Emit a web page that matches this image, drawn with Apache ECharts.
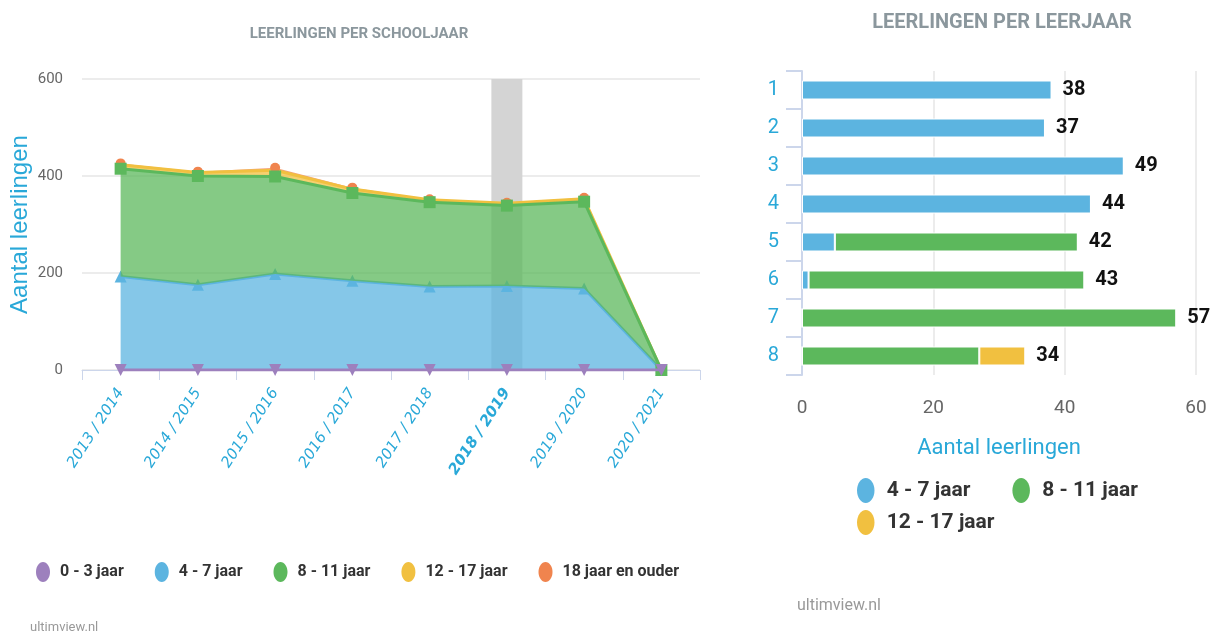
<!DOCTYPE html>
<html>
<head>
<meta charset="utf-8">
<script src="https://cdn.jsdelivr.net/npm/echarts@6/dist/echarts.min.js"></script>
<style>
  html, body { margin: 0; padding: 0; background: #fff; }
  #chart { width: 1212px; height: 635px; }
</style>
</head>
<body>
<div id="chart"></div>
<script>
var myChart = echarts.init(document.getElementById('chart'));

// leerlingen per schooljaar (links)
var schooljaren = ['2013 / 2014', '2014 / 2015', '2015 / 2016', '2016 / 2017', '2017 / 2018', '2018 / 2019', '2019 / 2020', '2020 / 2021'];
var jaar0_3 = [0, 0, 0, 0, 0, 0, 0, 0];
var jaar4_7 = [193, 176, 198, 184, 172, 173, 168, 0];
var jaar8_11 = [222, 224, 201, 181, 174, 166, 179, 0];
var jaar12_17 = [8, 7, 13, 8, 5, 5, 6, 0];
var jaar18plus = [3, 2, 5, 3, 1, 1, 2, 0];
var geselecteerd = [null, null, null, null, null, 600, null, null]; // huidig schooljaar

// leerlingen per leerjaar (rechts)
var leerjaren = ['1', '2', '3', '4', '5', '6', '7', '8'];
var lj4_7 = [38, 37, 49, 44, 5, 1, 0, 0];
var lj8_11 = [0, 0, 0, 0, 37, 42, 57, 27];
var lj12_17 = [0, 0, 0, 0, 0, 0, 0, 7];

var totalen = leerjaren.map(function (l, i) {
    return lj4_7[i] + lj8_11[i] + lj12_17[i];
});

var font = "Roboto, 'Liberation Sans', sans-serif";
var blauwTekst = '#29a8d8';
var kleuren = {
    paars: '#9d80bd',
    blauw: '#5cb4e0',
    groen: '#5cb85c',
    geel: '#f1c040',
    oranje: '#f0844e'
};
var ovaal = 'path://M7,0 C10.9,0 14,4.5 14,10 C14,15.5 10.9,20 7,20 C3.1,20 0,15.5 0,10 C0,4.5 3.1,0 7,0 Z';

function lijn(naam, data, kleur, symbool, extra) {
    var s = {
        name: naam,
        type: 'line',
        xAxisIndex: 0,
        yAxisIndex: 0,
        stack: 'school',
        data: data,
        color: kleur,
        symbol: symbool,
        symbolSize: 12,
        lineStyle: { width: 3, color: kleur },
        itemStyle: { color: kleur },
        areaStyle: { color: kleur, opacity: 0.75 },
        z: 3
    };
    for (var k in extra) s[k] = extra[k];
    return s;
}

option = {
    backgroundColor: '#fff',
    animation: false,
    title: [
        {
            text: 'LEERLINGEN PER SCHOOLJAAR',
            left: 354, top: 22, textAlign: 'center',
            textStyle: { fontFamily: font, fontSize: 15, fontWeight: 'bold', color: '#8b979d' }
        },
        {
            text: 'LEERLINGEN PER LEERJAAR',
            left: 997, top: 8, textAlign: 'center',
            textStyle: { fontFamily: font, fontSize: 20, fontWeight: 'bold', color: '#8b979d' }
        }
    ],
    legend: [
        {
            data: ['0 - 3 jaar', '4 - 7 jaar', '8 - 11 jaar', '12 - 17 jaar', '18 jaar en ouder'],
            left: 31, top: 557,
            icon: ovaal,
            itemWidth: 14, itemHeight: 20, itemGap: 31,
            textStyle: { fontFamily: font, fontSize: 16, fontWeight: 'bold', color: '#333', padding: [0, 0, 0, 5] }
        },
        {
            data: ['4 - 7 jaar', '8 - 11 jaar'],
            left: 852, top: 473,
            icon: ovaal,
            itemWidth: 20, itemHeight: 25, itemGap: 42,
            textStyle: { fontFamily: font, fontSize: 21, fontWeight: 'bold', color: '#333', padding: [0, 0, 0, 6] }
        },
        {
            data: ['12 - 17 jaar'],
            left: 852, top: 505,
            icon: ovaal,
            itemWidth: 20, itemHeight: 25,
            textStyle: { fontFamily: font, fontSize: 21, fontWeight: 'bold', color: '#333', padding: [0, 0, 0, 6] }
        }
    ],
    grid: [
        { left: 82, top: 79, width: 618, height: 291, containLabel: false, outerBoundsMode: 'none' },
        { left: 802, top: 71, width: 394, height: 304, containLabel: false, outerBoundsMode: 'none' }
    ],
    xAxis: [
        {
            gridIndex: 0,
            type: 'category',
            data: schooljaren,
            boundaryGap: true,
            axisLine: { lineStyle: { color: '#ccd6eb', width: 1 } },
            axisTick: { show: true, length: 10, lineStyle: { color: '#ccd6eb' } },
            axisLabel: {
                rotate: 57,
                margin: 20,
                interval: 0,
                fontFamily: 'DejaVu Sans',
                fontStyle: 'italic',
                fontSize: 15,
                color: blauwTekst,
                formatter: function (v, i) {
                    return i === 5 ? '{b|' + v + '}' : v;
                },
                rich: {
                    b: { fontWeight: 'bold', fontStyle: 'italic', fontFamily: 'DejaVu Sans', fontSize: 15, color: blauwTekst }
                }
            }
        },
        {
            gridIndex: 1,
            type: 'value',
            min: 0, max: 60, interval: 20,
            name: 'Aantal leerlingen',
            nameLocation: 'middle',
            nameGap: 62,
            nameTextStyle: { fontFamily: font, fontSize: 22, color: blauwTekst },
            axisLine: { show: false },
            axisTick: { show: false },
            splitLine: { lineStyle: { color: '#e6e6e6', width: 1.5 } },
            axisLabel: { fontFamily: font, fontSize: 19, color: '#666', margin: 24 }
        }
    ],
    yAxis: [
        {
            gridIndex: 0,
            type: 'value',
            min: 0, max: 600, interval: 200,
            name: 'Aantal leerlingen',
            nameLocation: 'middle',
            nameRotate: 90,
            nameGap: 50,
            nameMoveOverlap: false,
            nameTextStyle: { fontFamily: 'Liberation Sans', fontSize: 24, color: blauwTekst },
            axisLine: { show: false },
            axisTick: { show: false },
            splitLine: { lineStyle: { color: '#e6e6e6', width: 1.5 } },
            axisLabel: { fontFamily: font, fontSize: 15, color: '#666', margin: 19 }
        },
        {
            gridIndex: 1,
            type: 'category',
            data: leerjaren,
            inverse: true,
            axisLine: { show: true, lineStyle: { color: '#ccd6eb', width: 2 } },
            axisTick: { show: true, length: 16, lineStyle: { color: '#ccd6eb', width: 2 } },
            axisLabel: { fontFamily: font, fontSize: 20, color: blauwTekst, margin: 23 }
        }
    ],
    series: [
        {
            name: 'geselecteerd',
            type: 'bar',
            xAxisIndex: 0,
            yAxisIndex: 0,
            data: geselecteerd,
            barWidth: 31,
            itemStyle: { color: '#d4d4d4' },
            silent: true,
            z: 1
        },
        lijn('0 - 3 jaar', jaar0_3, kleuren.paars, 'triangle', { symbolRotate: 180, z: 5 }),
        lijn('4 - 7 jaar', jaar4_7, kleuren.blauw, 'triangle', {}),
        lijn('8 - 11 jaar', jaar8_11, kleuren.groen, 'rect', { z: 4 }),
        lijn('12 - 17 jaar', jaar12_17, kleuren.geel, 'diamond', { symbolSize: 0 }),
        lijn('18 jaar en ouder', jaar18plus, kleuren.oranje, 'circle', { symbolSize: 10, lineStyle: { width: 0 } }),

        {
            name: '4 - 7 jaar',
            type: 'bar',
            xAxisIndex: 1,
            yAxisIndex: 1,
            stack: 'leerjaar',
            data: lj4_7,
            barWidth: 19,
            itemStyle: { color: kleuren.blauw, borderColor: '#fff', borderWidth: 1 }
        },
        {
            name: '8 - 11 jaar',
            type: 'bar',
            xAxisIndex: 1,
            yAxisIndex: 1,
            stack: 'leerjaar',
            data: lj8_11,
            barWidth: 19,
            itemStyle: { color: kleuren.groen, borderColor: '#fff', borderWidth: 1 }
        },
        {
            name: '12 - 17 jaar',
            type: 'bar',
            xAxisIndex: 1,
            yAxisIndex: 1,
            stack: 'leerjaar',
            data: lj12_17,
            barWidth: 19,
            itemStyle: { color: kleuren.geel, borderColor: '#fff', borderWidth: 1 }
        },
        {
            name: 'totaal',
            type: 'bar',
            xAxisIndex: 1,
            yAxisIndex: 1,
            stack: 'leerjaar',
            data: leerjaren.map(function () { return 0; }),
            barWidth: 19,
            itemStyle: { color: 'transparent' },
            label: {
                show: true,
                position: 'right',
                distance: 11,
                fontFamily: font,
                fontSize: 20,
                fontWeight: 'bold',
                color: '#111',
                formatter: function (p) { return totalen[p.dataIndex]; }
            }
        }
    ],
    graphic: [
        {
            type: 'text', left: 30, top: 621,
            style: { text: 'ultimview.nl', fontFamily: font, fontSize: 13, fill: '#999' }
        },
        {
            type: 'text', left: 797, top: 598,
            style: { text: 'ultimview.nl', fontFamily: font, fontSize: 16, fill: '#999' }
        }
    ]
};

myChart.setOption(option);
</script>
</body>
</html>
